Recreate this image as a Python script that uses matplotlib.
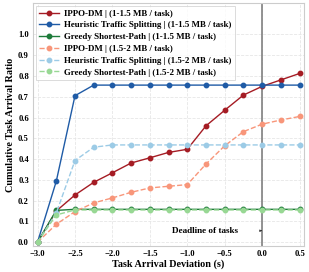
import matplotlib
matplotlib.use("Agg")
import matplotlib.pyplot as plt
import numpy as np

plt.rcParams['font.family'] = ['Liberation Serif', 'DejaVu Serif']
plt.rcParams['font.weight'] = 'bold'

deviation = [-3.0, -2.75, -2.5, -2.25, -2.0, -1.75, -1.5, -1.25, -1.0,
             -0.75, -0.5, -0.25, 0.0, 0.25, 0.5]

ippo_small = [0.0, 0.15, 0.227, 0.288, 0.334, 0.381, 0.406, 0.432, 0.447,
              0.56, 0.635, 0.708, 0.75, 0.781, 0.812]
heur_small = [0.0, 0.293, 0.705, 0.756, 0.756, 0.756, 0.756, 0.756, 0.756,
              0.756, 0.756, 0.756, 0.756, 0.756, 0.756]
greedy_small = [0.0, 0.153, 0.158, 0.158, 0.158, 0.158, 0.158, 0.158, 0.158,
                0.158, 0.158, 0.158, 0.158, 0.158, 0.158]
ippo_large = [0.0, 0.086, 0.147, 0.189, 0.213, 0.24, 0.261, 0.269, 0.277,
              0.376, 0.464, 0.532, 0.568, 0.588, 0.605]
heur_large = [0.0, 0.14, 0.393, 0.457, 0.468, 0.468, 0.468, 0.468, 0.468,
              0.468, 0.468, 0.468, 0.468, 0.468, 0.468]
greedy_large = [0.0, 0.131, 0.155, 0.155, 0.155, 0.155, 0.155, 0.155, 0.155,
                0.155, 0.155, 0.155, 0.155, 0.155, 0.155]

series = [
    ("IPPO-DM | (1-1.5 MB / task)", ippo_small, "#a51c24", "-"),
    ("Heuristic Traffic Splitting | (1-1.5 MB / task)", heur_small, "#1f5ba6", "-"),
    ("Greedy Shortest-Path | (1-1.5 MB / task)", greedy_small, "#1e7b3a", "-"),
    ("IPPO-DM | (1.5-2 MB / task)", ippo_large, "#f8967a", "--"),
    ("Heuristic Traffic Splitting | (1.5-2 MB / task)", heur_large, "#9ccbe6", "--"),
    ("Greedy Shortest-Path | (1.5-2 MB / task)", greedy_large, "#98d894", "--"),
]

fig = plt.figure(figsize=(3.09, 2.72), dpi=100)
ax = fig.add_axes([0.107, 0.096, 0.877, 0.892])

for label, vals, color, ls in series:
    ax.plot(deviation, vals, ls, color=color, marker='o', markersize=3.2,
            linewidth=1.0, label=label)

ax.axvline(0.0, color='#808080', linewidth=1.2, zorder=1)
ax.text(-0.76, 0.055, "Deadline of tasks", fontsize=6.6, fontweight='bold',
        ha='center', va='center')
ax.annotate("", xy=(0.0, 0.055), xytext=(-0.05, 0.055),
            arrowprops=dict(arrowstyle='-|>', color='#333333', lw=0.5,
                            mutation_scale=3))

ax.set_xlim(-3.06, 0.56)
ax.set_ylim(-0.018, 1.15)
ax.set_xticks([-3.0, -2.5, -2.0, -1.5, -1.0, -0.5, 0.0, 0.5])
ax.set_yticks([0.0, 0.1, 0.2, 0.3, 0.4, 0.5, 0.6, 0.7, 0.8, 0.9, 1.0])
ax.tick_params(labelsize=6.2, length=0, pad=3)
ax.grid(True, linestyle='--', color='#e6e6e6', linewidth=0.6)
ax.set_axisbelow(True)
for sp in ax.spines.values():
    sp.set_color('#cccccc')
    sp.set_linewidth(0.8)

ax.set_xlabel("Task Arrival Deviation (s)", fontsize=7.3, fontweight='bold', labelpad=1)
ax.set_ylabel("Cumulative Task Arrival Ratio", fontsize=7.3, fontweight='bold', labelpad=2)

leg = ax.legend(loc='upper left', fontsize=6.4, frameon=True, handlelength=2.2,
                borderpad=0.4, labelspacing=0.4, handletextpad=0.6,
                borderaxespad=0.3, fancybox=False)
leg.get_frame().set_edgecolor('#cccccc')
leg.get_frame().set_linewidth(0.6)

fig.savefig("out.png", dpi=100)
